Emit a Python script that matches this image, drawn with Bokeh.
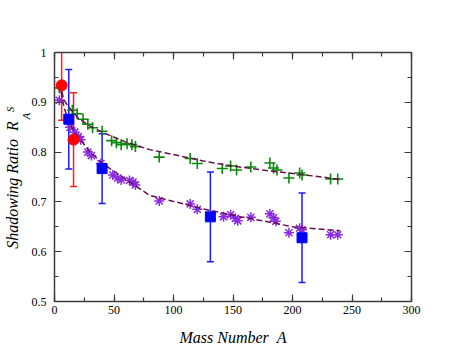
import math
from bokeh.plotting import figure
from bokeh.models import (Range1d, LinearAxis, FixedTicker, Whisker, ColumnDataSource,
                          Label, CustomJSTickFormatter, TeeHead)
from bokeh.embed import file_html
from bokeh.resources import INLINE

# ---------------- data ----------------
green_A = [4, 15, 19, 24, 28, 32, 40, 48, 52, 56, 61, 65, 68, 88, 114, 120,
           141, 148, 153, 165, 181, 184, 187, 197, 206, 208, 232, 238]
green_R = [0.929, 0.884, 0.877, 0.866, 0.856, 0.849, 0.842, 0.823, 0.819, 0.815, 0.817, 0.815,
           0.811, 0.790, 0.787, 0.777, 0.767, 0.772, 0.764, 0.770, 0.778, 0.768, 0.764,
           0.748, 0.758, 0.754, 0.746, 0.746]

purple_A = [4, 13, 17, 20, 22, 28, 31, 39, 49, 53, 56, 63, 66, 68, 88, 114, 120,
            142, 148, 152, 154, 165, 181, 184, 186, 197, 206, 208, 232, 238]
purple_R = [0.904, 0.850, 0.840, 0.831, 0.825, 0.800, 0.793, 0.777, 0.754, 0.748, 0.744,
            0.743, 0.740, 0.734, 0.702, 0.696, 0.685, 0.670, 0.674, 0.667, 0.662, 0.669,
            0.676, 0.668, 0.661, 0.638, 0.647, 0.644, 0.634, 0.634]

red_A = [6, 16]
red_R = [0.934, 0.825]
red_err = [0.07, 0.094]

blue_A = [12, 40, 131, 208]
blue_R = [0.866, 0.767, 0.670, 0.628]
blue_err = [0.10, 0.07, 0.09, 0.09]

fit_upper_A = [4, 8, 12, 20, 30, 40, 60, 80, 100, 125, 150, 175, 200, 225, 240]
fit_upper_R = [0.940, 0.905, 0.890, 0.868, 0.852, 0.840, 0.820, 0.805, 0.795, 0.782,
               0.772, 0.764, 0.757, 0.750, 0.745]
fit_lower_A = [4, 8, 12, 20, 30, 40, 60, 80, 100, 125, 150, 175, 200, 225, 240]
fit_lower_R = [0.940, 0.890, 0.860, 0.830, 0.800, 0.778, 0.745, 0.713, 0.701, 0.686,
               0.673, 0.662, 0.650, 0.645, 0.642]

x_ticks = [0, 50, 100, 150, 200, 250, 300]
y_ticks = [0.5, 0.6, 0.7, 0.8, 0.9, 1.0]
y_tick_labels = ["0.5", "0.6", "0.7", "0.8", "0.9", "1"]

x_title = "Mass Number\u00a0\u00a0A"
y_title = "Shadowing Ratio\u00a0\u00a0R\u00a0\u00a0\u00a0\u00a0"

# ---------------- figure ----------------
SERIF = "'Liberation Serif', 'Times New Roman', serif"
AXIS_COLOR = "#3c3c3c"

p = figure(width=463, height=354, output_backend="svg", toolbar_location=None,
           x_range=Range1d(0, 300), y_range=Range1d(0.5, 1.0),
           x_axis_location=None, y_axis_location=None,
           min_border_left=54, min_border_right=52, min_border_top=52, min_border_bottom=53)
p.outline_line_color = None
p.xgrid.visible = False
p.ygrid.visible = False
p.background_fill_color = "white"
p.border_fill_color = "white"


def style_axis(ax, labels=True):
    ax.axis_line_color = AXIS_COLOR
    ax.axis_line_width = 1.5
    ax.major_tick_line_color = AXIS_COLOR
    ax.minor_tick_line_color = AXIS_COLOR
    ax.major_tick_line_width = 1.2
    ax.minor_tick_line_width = 1.2
    ax.major_tick_in = 7
    ax.major_tick_out = 0
    ax.minor_tick_in = 4
    ax.minor_tick_out = 0
    ax.major_label_text_font = SERIF
    ax.major_label_text_font_size = "12px"
    ax.major_label_text_color = "black"
    ax.axis_label_text_font = SERIF
    ax.axis_label_text_font_style = "italic"
    ax.axis_label_text_font_size = "16px"
    ax.axis_label_text_color = "black"
    if not labels:
        ax.formatter = CustomJSTickFormatter(code="return ''")
        ax.major_label_standoff = 0


xb = LinearAxis(ticker=FixedTicker(ticks=x_ticks, minor_ticks=list(range(0, 301, 25))))
xb.major_label_standoff = 4
xb.axis_label = x_title
xb.axis_label_standoff = 12
style_axis(xb)
p.add_layout(xb, "below")

xt = LinearAxis(ticker=FixedTicker(ticks=x_ticks, minor_ticks=list(range(0, 301, 25))))
style_axis(xt, labels=False)
p.add_layout(xt, "above")

y_minor = [0.5 + 0.05 * i for i in range(11)]
yl = LinearAxis(ticker=FixedTicker(ticks=y_ticks, minor_ticks=y_minor))
yl.major_label_overrides = {t: s for t, s in zip(y_ticks, y_tick_labels)}
yl.major_label_standoff = 8
yl.axis_label = y_title
yl.axis_label_standoff = 8
style_axis(yl)
p.add_layout(yl, "left")

yr = LinearAxis(ticker=FixedTicker(ticks=y_ticks, minor_ticks=y_minor))
style_axis(yr, labels=False)
p.add_layout(yr, "right")

# scatter series
p.scatter(green_A, green_R, marker="cross", size=11, line_color="#0a8a0a", line_width=1.6)
p.scatter(purple_A, purple_R, marker="asterisk", size=10, line_color="#8a2be2", line_width=1.5)

# fit curves
DASH_COLOR = "#6b0f50"
p.line(fit_upper_A, fit_upper_R, line_color=DASH_COLOR, line_width=1.5, line_dash="6 3")
p.line(fit_lower_A, fit_lower_R, line_color=DASH_COLOR, line_width=1.5, line_dash="6 3")

# error bars
red_src = ColumnDataSource(dict(x=red_A, y=red_R,
                                lo=[r - e for r, e in zip(red_R, red_err)],
                                hi=[r + e for r, e in zip(red_R, red_err)]))
blue_src = ColumnDataSource(dict(x=blue_A, y=blue_R,
                                 lo=[r - e for r, e in zip(blue_R, blue_err)],
                                 hi=[r + e for r, e in zip(blue_R, blue_err)]))
for src, col in ((red_src, "#ff2020"), (blue_src, "#1a1aff")):
    w = Whisker(source=src, base="x", upper="hi", lower="lo", line_color=col, line_width=1.5,
                upper_head=TeeHead(size=7, line_color=col, line_width=1.5),
                lower_head=TeeHead(size=7, line_color=col, line_width=1.5))
    p.add_layout(w)

p.scatter("x", "y", source=red_src, marker="circle", size=11, fill_color="red", line_color="red")
p.scatter("x", "y", source=blue_src, marker="square", size=10, fill_color="blue", line_color="blue")

# subscript / superscript of R (kept in a side panel so they are not clipped to the frame)
p.add_layout(Label(x=-24.0, y=0.8657, text="A", angle=math.pi / 2,
                   text_font=SERIF, text_font_style="italic", text_font_size="11px",
                   text_align="left", text_baseline="alphabetic", text_color="black"), "above")
p.add_layout(Label(x=-37.8, y=0.8798, text="S", angle=math.pi / 2,
                   text_font=SERIF, text_font_style="italic", text_font_size="11px",
                   text_align="left", text_baseline="alphabetic", text_color="black"), "above")

open("out.html", "w").write(file_html(p, INLINE))
